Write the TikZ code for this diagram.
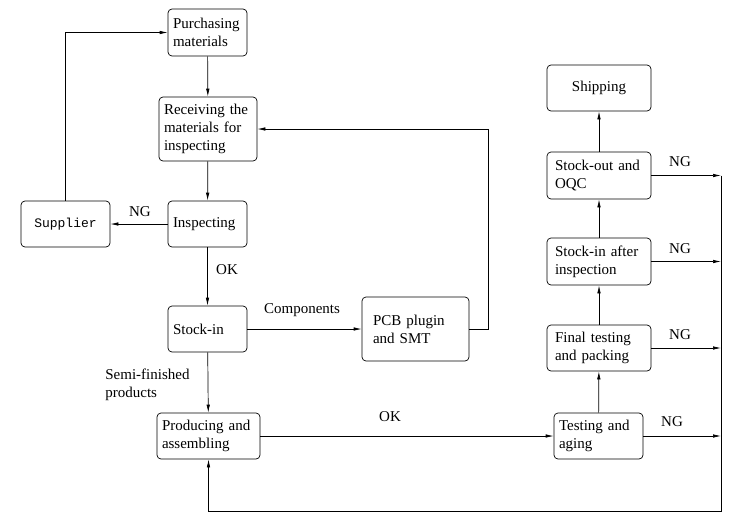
\documentclass[tikz,border=0pt]{standalone}
\usepackage{fontspec}
\setmainfont{Liberation Serif}
\newfontfamily\monofam{Liberation Mono}
\usepackage{tikz}
\usetikzlibrary{positioning,calc,arrows.meta}

\newcommand\boxfont{\fontsize{15}{18}\selectfont}
\newcommand\suppfont{\monofam\fontsize{13}{18}\selectfont}

\tikzset{
  box/.style={draw, rounded corners=4pt, align=left, inner xsep=5pt, inner ysep=0pt, font=\boxfont},
  rbox/.style={box, inner xsep=8pt},
  arr/.style={-{Latex[length=8pt,width=3.5pt]}},
  lbl/.style={font=\boxfont, inner sep=0pt},
}

\begin{document}
\begin{tikzpicture}[x=1pt,y=-1pt,line width=0.7pt]
    \useasboundingbox (0,0) rectangle (749,517);

    % left column
    \node[box, text width=69pt, minimum height=47pt] (purch) at (207.5,32.5) {Purchasing\\materials};
    \node[box, text width=88pt, minimum height=64pt] (recv) at (208,129) {Receiving the\\materials for\\inspecting};
    \node[box, text width=69pt, minimum height=46pt] (insp) at (207.5,224) {Inspecting};
    \node[box, align=center, font=\suppfont, text width=79pt, minimum height=46pt] (supp) at (65.5,224) {Supplier};
    \node[box, text width=69pt, minimum height=46pt] (stockin) at (207.5,329) {Stock-in};
    \node[box, text width=93pt, minimum height=46pt] (prod) at (208.5,436) {Producing and\\assembling};
    \node[box, inner xsep=11pt, text width=85pt, minimum height=64pt] (pcb) at (415.5,329) {PCB plugin\\and SMT};

    % right column
    \node[box, align=center, text width=94pt, minimum height=46pt] (ship) at (599,88) {Shipping};
    \node[rbox, text width=88pt, minimum height=47pt] (sout) at (599,175.5) {Stock-out and\\OQC};
    \node[rbox, text width=88pt, minimum height=47pt] (sinafter) at (599,261.5) {Stock-in after\\inspection};
    \node[rbox, text width=88pt, minimum height=46pt] (final) at (599,348) {Final testing\\and packing};
    \node[box, text width=79pt, minimum height=46pt] (test) at (598.5,436) {Testing and\\aging};

    \coordinate (pcbturn) at (488,129);
    \coordinate (rtop) at (721,175.5);
    \coordinate (rbot) at (721,511);

    % connectors
    \draw[arr] (purch) -- (recv);
    \draw[arr] (recv) -- (insp);
    \draw[arr] (insp) -- (supp);
    \draw[arr] (supp.north) |- (purch.west);
    \draw[arr] (insp) -- (stockin);
    \draw[arr] (stockin) -- (pcb);
    \draw[arr] (pcb.east) -| (pcbturn) -- (recv.east);
    \draw[arr] (stockin) -- (prod);
    \draw[arr] (prod) -- (test);
    \draw[arr] (test) -- (final);
    \draw[arr] (final) -- (sinafter);
    \draw[arr] (sinafter) -- (sout);
    \draw[arr] (sout) -- (ship);

    \draw[arr] (sout.east) -- (sout.east -| rtop);
    \draw[arr] (sinafter.east) -- (sinafter.east -| rtop);
    \draw[arr] (final.east) -- (final.east -| rtop);
    \draw[arr] (test.east) -- (test.east -| rtop);
    \draw[arr] (rtop) -- (rbot) -| (prod.south);

    % labels
    \node[lbl] (ngsupp) at (140,212) {NG};
    \node[lbl] (okinsp) at (227,270) {OK};
    \node[lbl] (comp) at (302,310) {Components};
    \node[lbl, align=left, anchor=west] (semi) at (105,385) {Semi-finished\\products};
    \node[lbl] (okprod) at (390,417) {OK};
    \node[lbl] (ng1) at (680,162) {NG};
    \node[lbl] (ng2) at (680,249) {NG};
    \node[lbl] (ng3) at (680,335) {NG};
    \node[lbl] (ng4) at (672,422) {NG};
\end{tikzpicture}
\end{document}
